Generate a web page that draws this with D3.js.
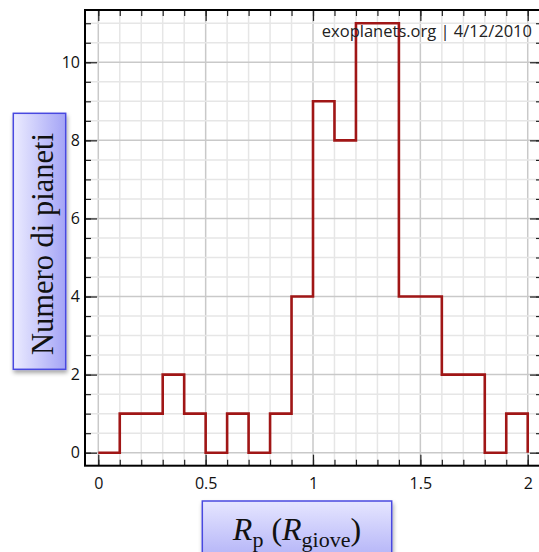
<!DOCTYPE html>
<html>
<head>
<meta charset="utf-8">
<script src="https://cdn.jsdelivr.net/npm/d3@7"></script>
<style>
  html, body { margin: 0; padding: 0; background: #fff; overflow: hidden; }
  svg { display: block; }
</style>
</head>
<body>
<svg id="chart" width="539" height="552"></svg>
<script>
// Histogram of planetary radii (bins of 0.1 R_giove)
const binStarts = [0, 0.1, 0.2, 0.3, 0.4, 0.5, 0.6, 0.7, 0.8, 0.9,
                   1.0, 1.1, 1.2, 1.3, 1.4, 1.5, 1.6, 1.7, 1.8, 1.9];
const counts    = [0, 1, 1, 2, 1, 0, 1, 0, 1, 4,
                   9, 8, 11, 11, 4, 4, 2, 2, 0, 1];
const binEnd = 2.0;

const xTickLabels = [0, 0.5, 1, 1.5, 2];
const yTickLabels = [0, 2, 4, 6, 8, 10];
const xMinorTicks = d3.range(0, 21).map(i => i / 10);
const yMinorTicks = d3.range(0, 23).map(i => i / 2);

const yLabelText = "Numero di pianeti";
const watermark = "exoplanets.org | 4/12/2010";

const svg = d3.select("#chart");

const plot = { left: 85, right: 542, top: 10, bottom: 465.7 };
const x = d3.scaleLinear().domain([-0.0619, 2.0665]).range([plot.left, plot.right]);
const y = d3.scaleLinear().domain([-0.3328, 11.339]).range([plot.bottom, plot.top]);

const defs = svg.append("defs");
const gradY = defs.append("linearGradient").attr("id", "gradY")
  .attr("x1", "0").attr("y1", "0").attr("x2", "1").attr("y2", "0");
gradY.append("stop").attr("offset", "0").attr("stop-color", "#ececff");
gradY.append("stop").attr("offset", "1").attr("stop-color", "#a4a4f6");
const gradX = defs.append("linearGradient").attr("id", "gradX")
  .attr("x1", "0").attr("y1", "0").attr("x2", "0").attr("y2", "1");
gradX.append("stop").attr("offset", "0").attr("stop-color", "#e6e6ff");
gradX.append("stop").attr("offset", "1").attr("stop-color", "#a8a8f6");
const shadow = defs.append("filter").attr("id", "shadow")
  .attr("x", "-20%").attr("y", "-20%").attr("width", "150%").attr("height", "150%");
shadow.append("feDropShadow").attr("dx", 1).attr("dy", 3).attr("stdDeviation", 2)
  .attr("flood-color", "#000").attr("flood-opacity", 0.35);
defs.append("clipPath").attr("id", "plotClip").append("rect")
  .attr("x", plot.left).attr("y", plot.top)
  .attr("width", plot.right - plot.left).attr("height", plot.bottom - plot.top);

// plot background
svg.append("rect").attr("x", plot.left).attr("y", plot.top)
  .attr("width", plot.right - plot.left).attr("height", plot.bottom - plot.top)
  .attr("fill", "#fff");

// grid
const grid = svg.append("g").attr("clip-path", "url(#plotClip)");
const xGridMinor = d3.range(-1, 22).map(i => i / 10);
grid.selectAll(".gxm").data(xGridMinor).join("line")
  .attr("x1", d => x(d)).attr("x2", d => x(d))
  .attr("y1", plot.top).attr("y2", plot.bottom)
  .attr("stroke", d => (Math.round(d * 10) % 5 === 0) ? "#c9c9c9" : "#e6e6e6")
  .attr("stroke-width", 1.5);
grid.selectAll(".gym").data(yMinorTicks).join("line")
  .attr("y1", d => y(d)).attr("y2", d => y(d))
  .attr("x1", plot.left).attr("x2", plot.right)
  .attr("stroke", d => (d % 2 === 0) ? "#c9c9c9" : "#e6e6e6")
  .attr("stroke-width", 1.5);

// histogram outline
const stepData = binStarts.map((b, i) => [b, counts[i]]).concat([[binEnd, 0]]);
const line = d3.line().x(d => x(d[0])).y(d => y(d[1])).curve(d3.curveStepAfter);
svg.append("path").datum(stepData)
  .attr("d", line)
  .attr("fill", "none")
  .attr("stroke", "#a01616")
  .attr("stroke-width", 2.6);

// axes with inward ticks
const tickFont = "'Open Sans', 'DejaVu Sans', sans-serif";
function styleAxis(g) {
  g.selectAll(".domain").remove();
  g.selectAll(".tick line").attr("stroke", "#222").attr("stroke-width", 1.2);
  g.selectAll(".tick text").attr("fill", "#111")
    .style("font-family", tickFont).style("font-size", "16px");
}
// bottom
svg.append("g").attr("transform", `translate(0,${plot.bottom})`)
  .call(d3.axisBottom(x).tickValues(xMinorTicks).tickSize(-6).tickFormat(""))
  .call(styleAxis);
svg.append("g").attr("transform", `translate(0,${plot.bottom})`)
  .call(d3.axisBottom(x).tickValues(xTickLabels).tickSize(-11).tickPadding(12)
    .tickFormat(d3.format("")))
  .call(styleAxis);
// top
svg.append("g").attr("transform", `translate(0,${plot.top})`)
  .call(d3.axisTop(x).tickValues(xMinorTicks).tickSize(-6).tickFormat(""))
  .call(styleAxis);
svg.append("g").attr("transform", `translate(0,${plot.top})`)
  .call(d3.axisTop(x).tickValues(xTickLabels).tickSize(-11).tickFormat(""))
  .call(styleAxis);
// left
svg.append("g").attr("transform", `translate(${plot.left},0)`)
  .call(d3.axisLeft(y).tickValues(yMinorTicks).tickSize(-6).tickFormat(""))
  .call(styleAxis);
svg.append("g").attr("transform", `translate(${plot.left},0)`)
  .call(d3.axisLeft(y).tickValues(yTickLabels).tickSize(-12).tickPadding(5)
    .tickFormat(d3.format("d")))
  .call(styleAxis);
// right
svg.append("g").attr("transform", `translate(${plot.right},0)`)
  .call(d3.axisRight(y).tickValues(yMinorTicks).tickSize(-6).tickFormat(""))
  .call(styleAxis);
svg.append("g").attr("transform", `translate(${plot.right},0)`)
  .call(d3.axisRight(y).tickValues(yTickLabels).tickSize(-12).tickFormat(""))
  .call(styleAxis);

// frame
svg.append("rect").attr("x", plot.left).attr("y", plot.top)
  .attr("width", plot.right - plot.left).attr("height", plot.bottom - plot.top)
  .attr("fill", "none").attr("stroke", "#000").attr("stroke-width", 2);

// watermark
svg.append("text").attr("x", 532).attr("y", 36.5)
  .attr("text-anchor", "end")
  .style("font-family", tickFont).style("font-size", "16.5px").attr("fill", "#222")
  .text(watermark);

// y label box
const serif = "'Liberation Serif', 'DejaVu Serif', serif";
svg.append("rect").attr("x", 13.3).attr("y", 113.3).attr("width", 52.4).attr("height", 256)
  .attr("fill", "url(#gradY)").attr("stroke", "#4a4ae0").attr("stroke-width", 1.5)
  .attr("filter", "url(#shadow)");
svg.append("text")
  .attr("transform", "translate(53.3,244) rotate(-90)")
  .attr("text-anchor", "middle")
  .style("font-family", serif).style("font-size", "30.5px").attr("fill", "#111")
  .text(yLabelText);

// x label box
svg.append("rect").attr("x", 202.3).attr("y", 501).attr("width", 189.4).attr("height", 70)
  .attr("fill", "url(#gradX)").attr("stroke", "#4a4ae0").attr("stroke-width", 1.5)
  .attr("filter", "url(#shadow)");
const xl = svg.append("text").attr("x", 297).attr("y", 540)
  .attr("text-anchor", "middle")
  .style("font-family", serif).style("font-size", "32px").attr("fill", "#111");
xl.append("tspan").style("font-style", "italic").text("R");
xl.append("tspan").attr("dy", 7).style("font-size", "22px").text("p");
xl.append("tspan").attr("dy", -7).text(" (");
xl.append("tspan").style("font-style", "italic").text("R");
xl.append("tspan").attr("dy", 7).style("font-size", "22px").text("giove");
xl.append("tspan").attr("dy", -7).text(")");
</script>
</body>
</html>
